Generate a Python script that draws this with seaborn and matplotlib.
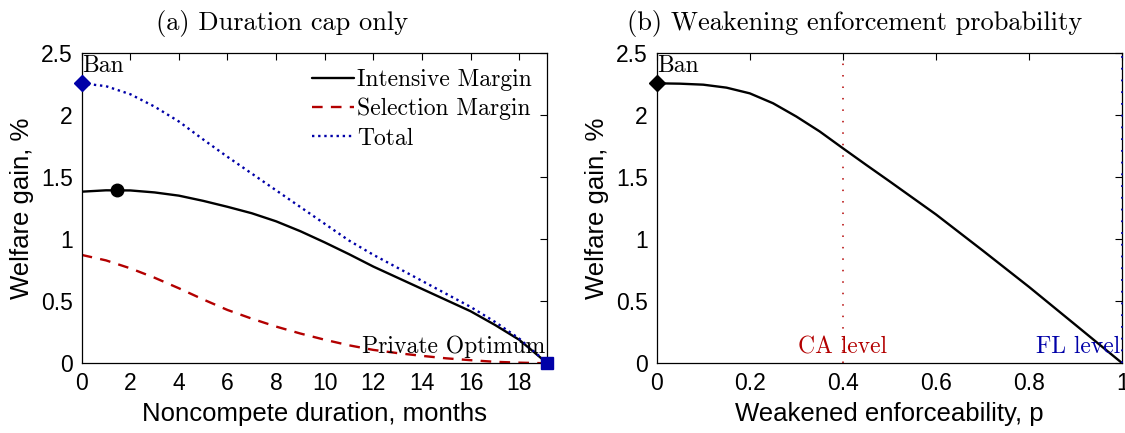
import numpy as np
import pandas as pd
import matplotlib
matplotlib.use("Agg")
import matplotlib.pyplot as plt
import seaborn as sns

# ---------------- data ----------------
months = [0, 1, 2, 3, 4, 5, 6, 7, 8, 9, 10, 11, 12, 13, 14, 15, 16, 17, 18, 19.16]
intensive = [1.384, 1.395, 1.394, 1.378, 1.352, 1.31, 1.262, 1.21, 1.145, 1.065, 0.975,
             0.88, 0.78, 0.69, 0.60, 0.51, 0.42, 0.31, 0.19, 0.0]
selection = [0.874, 0.83, 0.766, 0.69, 0.605, 0.515, 0.43, 0.36, 0.296, 0.24, 0.19,
             0.145, 0.108, 0.082, 0.06, 0.04, 0.025, 0.012, 0.005, 0.0]
total = [2.258, 2.235, 2.17, 2.07, 1.95, 1.805, 1.665, 1.53, 1.395, 1.26, 1.125,
         0.99, 0.875, 0.77, 0.665, 0.56, 0.455, 0.335, 0.2, 0.0]
peak_month, peak_value = 1.44, 1.398
ban_value = 2.258
private_opt_month = 19.16

p_vals = [0, 0.05, 0.1, 0.15, 0.2, 0.25, 0.3, 0.35, 0.4, 0.45, 0.5, 0.6, 0.7, 0.8, 0.9, 1.0]
gain_p = [2.258, 2.255, 2.247, 2.223, 2.177, 2.097, 1.99, 1.87, 1.734, 1.60, 1.468,
          1.20, 0.91, 0.615, 0.308, 0.0]
ca_level, fl_level = 0.4, 1.0

left_xticks = [0, 2, 4, 6, 8, 10, 12, 14, 16, 18]
right_xticks = [0, 0.2, 0.4, 0.6, 0.8, 1]
right_xticklabels = ["0", "0.2", "0.4", "0.6", "0.8", "1"]
yticks = [0, 0.5, 1, 1.5, 2, 2.5]
yticklabels = ["0", "0.5", "1", "1.5", "2", "2.5"]

# ---------------- style ----------------
sns.set_theme(style="white")
plt.rcParams["font.family"] = ["Liberation Sans", "DejaVu Sans"]
plt.rcParams["axes.unicode_minus"] = False
for key in ["text.color", "axes.labelcolor", "xtick.color", "ytick.color", "axes.edgecolor"]:
    plt.rcParams[key] = "black"
SERIF = ["cmr10", "DejaVu Serif"]

BLACK = "black"
RED = (0.70, 0.0, 0.0)
BLUE = (0.0, 0.0, 0.66)

fig = plt.figure(figsize=(11.25, 4.33), dpi=100)
axL = fig.add_axes([0.0726, 0.1610, 0.4139, 0.7159])
axR = fig.add_axes([0.5837, 0.1610, 0.4139, 0.7159])

df_left = pd.DataFrame({"month": months, "intensive": intensive,
                        "selection": selection, "total": total})
df_right = pd.DataFrame({"p": p_vals, "gain": gain_p})


def style_axes(ax):
    for s in ax.spines.values():
        s.set_visible(True)
        s.set_color("black")
        s.set_linewidth(0.9)
    ax.tick_params(direction="in", length=5, width=0.8, top=True, right=True,
                   labelsize=16.5, pad=6.5, colors="black")
    ax.set_yticks(yticks)
    ax.set_yticklabels(yticklabels)
    ax.set_ylim(0, 2.5)
    ax.set_ylabel("Welfare gain, %", fontsize=18.5, labelpad=5)


# ---------------- left panel ----------------
sns.lineplot(data=df_left, x="month", y="intensive", ax=axL, color=BLACK,
             linewidth=1.7, label="Intensive Margin", sort=False)
sns.lineplot(data=df_left, x="month", y="selection", ax=axL, color=RED,
             linewidth=1.7, linestyle=(0, (4.5, 3.5)), label="Selection Margin", sort=False)
sns.lineplot(data=df_left, x="month", y="total", ax=axL, color=BLUE,
             linewidth=1.7, linestyle=(0, (1, 1.6)), label="Total", sort=False)
axL.plot([0], [ban_value], marker="D", color=BLUE, markersize=8, clip_on=False, zorder=5)
axL.plot([peak_month], [peak_value], marker="o", color=BLACK, markersize=9, zorder=5)
axL.plot([private_opt_month], [0], marker="s", color=BLUE, markersize=8, clip_on=False, zorder=5)

style_axes(axL)
axL.set_xlim(0, private_opt_month)
axL.set_xticks(left_xticks)
axL.set_xticklabels([str(t) for t in left_xticks])
axL.set_xlabel("Noncompete duration, months", fontsize=18.5, labelpad=5)
axL.set_title("(a) Duration cap only", family=SERIF, fontsize=19, pad=17, x=0.43)
axL.text(0.02, ban_value + 0.05, "Ban", family=SERIF, fontsize=17, ha="left", va="bottom")
axL.text(private_opt_month - 0.1, 0.04, "Private Optimum", family=SERIF, fontsize=17,
         ha="right", va="bottom")
leg = axL.legend(loc="upper right", frameon=False, prop={"family": SERIF, "size": 17},
                 handlelength=1.75, handletextpad=0.15, labelspacing=0.3,
                 borderaxespad=0.45, borderpad=0.2)

# ---------------- right panel ----------------
axR.axvline(ca_level, color=RED, linewidth=1.1, linestyle=(0, (1, 6.5)), zorder=1)
axR.axvline(fl_level, color=BLUE, linewidth=1.3, linestyle=(0, (1, 5.5)), zorder=4,
            clip_on=False)
sns.lineplot(data=df_right, x="p", y="gain", ax=axR, color=BLACK, linewidth=1.7, sort=False)
axR.plot([0], [gain_p[0]], marker="D", color=BLACK, markersize=8, clip_on=False, zorder=5)

style_axes(axR)
axR.set_xlim(0, 1)
axR.set_xticks(right_xticks)
axR.set_xticklabels(right_xticklabels)
axR.set_xlabel("Weakened enforceability, p", fontsize=18.5, labelpad=5)
axR.set_title("(b) Weakening enforcement probability", family=SERIF, fontsize=19, pad=17,
              x=0.425)
axR.text(0.002, gain_p[0] + 0.05, "Ban", family=SERIF, fontsize=17, ha="left", va="bottom")
axR.text(ca_level, 0.04, "CA level", family=SERIF, fontsize=17, color=RED,
         ha="center", va="bottom")
axR.text(fl_level - 0.005, 0.04, "FL level", family=SERIF, fontsize=17, color=BLUE,
         ha="right", va="bottom")

fig.savefig("out.png", dpi=100)
